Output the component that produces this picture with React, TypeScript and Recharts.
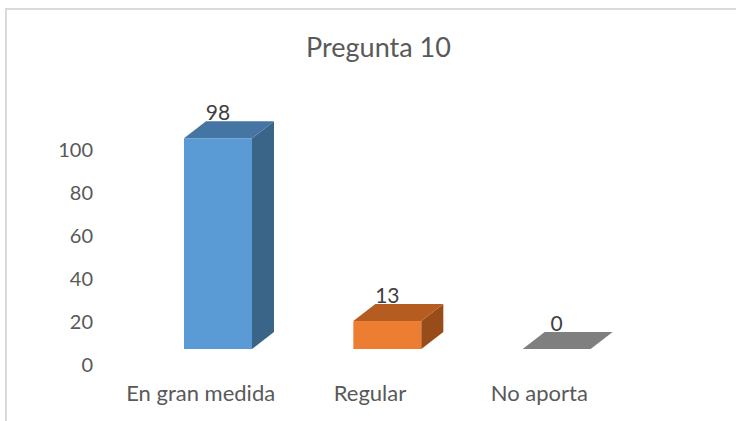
import React from "react";
import { BarChart, Bar, XAxis, YAxis } from "recharts";

const categories = ["En gran medida", "Regular", "No aporta"];
const values = [98, 13, 0];
const yTicks = [0, 20, 40, 60, 80, 100];

// front / top / side colours per bar
const fronts = ["#5b9bd5", "#ed7d31", "#a5a5a5"];
const tops = ["#4576a3", "#b55c21", "#7f7f7f"];
const sides = ["#3a6488", "#974c1a", "#6a6a6a"];

const FX = 17; // front face shift from category centre
const FY = -16; // floor shift
const DX = 22; // depth
const DY = -17;

const data = categories.map((name, i) => ({ name, value: values[i] }));

function Bar3D(props: any) {
  const { x, y, width, height, index, value } = props;
  const x0 = x + FX;
  const x1 = x0 + width;
  const yTop = y + FY;
  const yBot = y + height + FY;
  const front = fronts[index];
  const top = tops[index];
  const side = sides[index];
  return (
    <g>
      {height > 0 && <rect x={x0} y={yTop} width={width} height={height} fill={front} />}
      {height > 0 && (
        <polygon
          points={`${x1},${yTop} ${x1 + DX},${yTop + DY} ${x1 + DX},${yBot + DY} ${x1},${yBot}`}
          fill={side}
        />
      )}
      <polygon
        points={`${x0},${yTop} ${x0 + DX},${yTop + DY} ${x1 + DX},${yTop + DY} ${x1},${yTop}`}
        fill={top}
      />
      <text
        x={x0 + width / 2}
        y={yTop + DY - 1}
        textAnchor="middle"
        fontSize={21}
        fill="#404040"
        fontFamily="Lato"
      >
        {value}
      </text>
    </g>
  );
}

export default function App() {
  return (
    <div
      style={{
        position: "absolute",
        left: 0,
        top: 0,
        width: 736,
        height: 421,
        background: "#ffffff",
        fontFamily: "Lato",
        overflow: "hidden",
      }}
    >
      <div
        style={{
          position: "absolute",
          left: 5,
          top: 8,
          right: -4,
          bottom: -4,
          borderLeft: "2px solid #dadada",
          borderTop: "2px solid #dadada",
        }}
      />
      <div
        style={{
          position: "absolute",
          left: 0,
          width: 757,
          top: 31,
          textAlign: "center",
          fontSize: 27,
          color: "#595959",
          lineHeight: "32px",
        }}
      >
        Pregunta 10
      </div>
      <div style={{ position: "absolute", left: 0, top: 0 }}>
        <BarChart
          width={736}
          height={421}
          data={data}
          margin={{ top: 150, right: 112, bottom: 16, left: 0 }}
          barSize={68}
        >
          <XAxis
            dataKey="name"
            axisLine={false}
            tickLine={false}
            height={40}
            tickMargin={14}
            tick={{ fontSize: 22, fill: "#595959", fontFamily: "Lato" }}
          />
          <YAxis
            domain={[0, 100]}
            ticks={yTicks}
            axisLine={false}
            tickLine={false}
            width={116}
            tickMargin={17}
            tick={{ fontSize: 20, fill: "#595959", fontFamily: "Lato" }}
          />
          <Bar dataKey="value" shape={<Bar3D />} isAnimationActive={false} />
        </BarChart>
      </div>
    </div>
  );
}
